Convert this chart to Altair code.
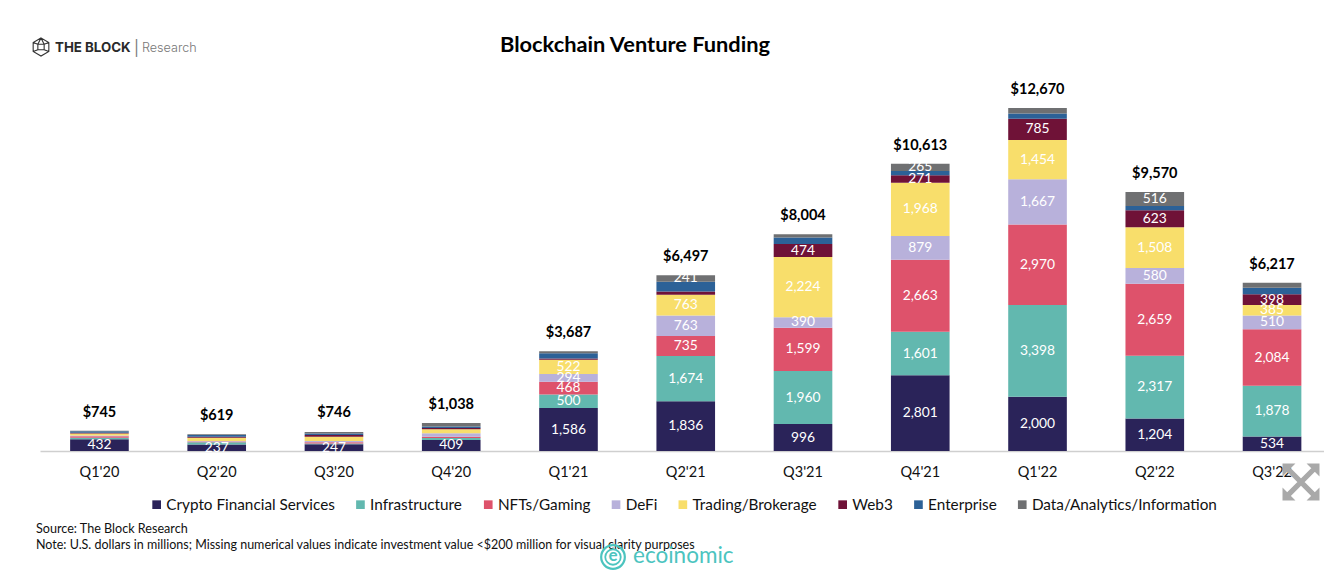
import altair as alt
import pandas as pd

quarters = ["Q1'20","Q2'20","Q3'20","Q4'20","Q1'21","Q2'21","Q3'21","Q4'21","Q1'22","Q2'22","Q3'22"]
totals = [745,619,746,1038,3687,6497,8004,10613,12670,9570,6217]
series = ["Crypto Financial Services","Infrastructure","NFTs/Gaming","DeFi","Trading/Brokerage","Web3","Enterprise","Data/Analytics/Information"]
colors = ["#2A2359","#62B8AF","#DE526B","#B8B1DB","#F8DE6B","#6F1237","#2C6197","#6F7072"]
crypto = [432,237,247,409,1586,1836,996,2801,2000,1204,534]
infra = [60,90,30,70,500,1674,1960,1601,3398,2317,1878]
nfts = [50,20,50,50,468,735,1599,2663,2970,2659,2084]
defi = [30,25,40,130,294,763,390,879,1667,580,510]
trading = [70,120,160,140,522,763,2224,1968,1454,1508,385]
web3 = [35,30,60,50,50,123,474,271,785,623,398]
enterprise = [55,70,60,60,190,362,240,165,198,163,238]
data_info = [13,27,59,129,77,241,121,265,198,516,190]
columns = [crypto,infra,nfts,defi,trading,web3,enterprise,data_info]

FONT = "Lato"
rows = []
for s_i, (s, col) in enumerate(zip(series, columns)):
    for q, v in zip(quarters, col):
        rows.append({"quarter": q, "series": s, "value": v, "idx": s_i,
                     "label": f"{v:,}" if v >= 200 and s != "Enterprise" else ""})
df = pd.DataFrame(rows)
tot = pd.DataFrame({"quarter": quarters, "total": totals, "label": [f"${t:,}" for t in totals]})

band = alt.Scale(paddingInner=0.5, paddingOuter=0.225, align=0.571)
x = alt.X("quarter:N", sort=quarters, title=None, scale=band,
          axis=alt.Axis(labelAngle=0, labelFont=FONT, labelFontSize=14.5, labelColor="#111", labelPadding=14,
                        ticks=False, domainColor="#cfcfcf", domainWidth=1.5))
yscale = alt.Scale(domain=[0, 16365])

stacked = alt.Chart(df).transform_stack(
    stack="value", as_=["y0", "y1"], groupby=["quarter"], sort=[alt.SortField("idx", order="ascending")]
).transform_calculate(mid="(datum.y0+datum.y1)/2")

bars = stacked.mark_bar().encode(
    x=x,
    y=alt.Y("y0:Q", scale=yscale, axis=None, title=None),
    y2="y1:Q",
    color=alt.Color("series:N", sort=series, scale=alt.Scale(domain=series, range=colors),
                    legend=alt.Legend(orient="none", legendX=109, legendY=489, direction="horizontal", columns=8,
                                      title=None, symbolType="square", symbolSize=75, symbolStrokeWidth=0,
                                      labelFont=FONT, labelFontSize=15.3, labelColor="#111", labelLimit=0,
                                      columnPadding=17.8, symbolOffset=0, labelOffset=2)),
)
labels = stacked.transform_filter("datum.label != ''").mark_text(
    font=FONT, fontSize=13.8, color="white", baseline="middle").encode(
    x=alt.X("quarter:N", sort=quarters), y=alt.Y("mid:Q", scale=yscale), text="label:N")
total_text = alt.Chart(tot).mark_text(
    font=FONT, fontWeight="bold", fontSize=14.5, color="black", baseline="middle", dy=-18).encode(
    x=alt.X("quarter:N", sort=quarters), y=alt.Y("total:Q", scale=yscale), text="label:N")

one = alt.Data(values=[{"a": 1}])
def note(text, px, py, **kw):
    return alt.Chart(one).mark_text(text=text, align=kw.pop("align", "left"), baseline="middle", **kw).encode(
        x=alt.value(px - 40), y=alt.value(py - 8))
def glyph(path, px, py, size, **kw):
    return alt.Chart(one).mark_point(shape=path, size=size, **kw).encode(
        x=alt.value(px - 40), y=alt.value(py - 8))

hexagon = "M0,-1 L0.87,-0.5 L0.87,0.5 L0,1 L-0.87,0.5 L-0.87,-0.5 Z M-0.87,-0.5 L-0.35,-0.3 M0.87,-0.5 L0.35,-0.3 M-0.87,0.5 L-0.35,0.3 M0.87,0.5 L0.35,0.3 M-0.35,-0.3 L0.35,-0.3 L0.35,0.3 L-0.35,0.3 Z M0,-1 L-0.35,-0.3 M0,-1 L0.35,-0.3"
expand = ("M-1,-1 L-0.3,-1 L-1,-0.3 Z M1,-1 L1,-0.3 L0.3,-1 Z M1,1 L0.3,1 L1,0.3 Z M-1,1 L-1,0.3 L-0.3,1 Z "
          "M-0.75,-0.55 L-0.55,-0.75 L0.75,0.55 L0.55,0.75 Z M0.55,-0.75 L0.75,-0.55 L-0.55,0.75 L-0.75,0.55 Z")

extras = [
    note("Blockchain Venture Funding", 635, 45, font=FONT, fontWeight="bold", fontSize=21.8, color="black", align="center"),
    glyph(hexagon, 41, 47, 324, filled=False, stroke="#333", strokeWidth=1.1, opacity=1),
    note("THE BLOCK", 55, 48, font="Inter", fontWeight="bold", fontSize=13.3, color="#2a2a2a"),
    note("|", 134, 48, font="Inter", fontSize=15, color="#777"),
    note("Research", 142, 48, font="Inter", fontWeight=300, fontSize=12.6, color="#777"),
    note("Source: The Block Research", 36, 529, font=FONT, fontSize=12.6, color="#111"),
    note("Note: U.S. dollars in millions; Missing numerical values indicate investment value <$200 million for visual clarity purposes",
         36, 545, font=FONT, fontSize=12.5, color="#111"),
    glyph(expand, 1301, 482, 1369, filled=True, fill="#A9A9A9", stroke="#A9A9A9", strokeWidth=0, opacity=1),
    glyph("circle", 613, 557, 560, filled=False, stroke="#4CC4BF", strokeWidth=2.2, opacity=1),
    glyph("circle", 613, 557, 240, filled=False, stroke="#4CC4BF", strokeWidth=1.8, opacity=1),
    note("e", 613, 556, font=FONT, fontWeight="bold", fontSize=17, color="#4CC4BF", align="center"),
    note("ecoinomic", 633, 556, font=FONT, fontSize=22.5, color="#4CC4BF"),
]

chart = alt.layer(bars, labels, total_text, *extras).resolve_scale(y="shared").properties(
    width=1284, height=443,
    padding={"left": 32, "top": 0, "right": 0, "bottom": 119},
    autosize=alt.AutoSizeParams(type="none"),
).configure_view(stroke=None)

chart.save("out.html", embed_options={"renderer": "svg", "actions": False})
